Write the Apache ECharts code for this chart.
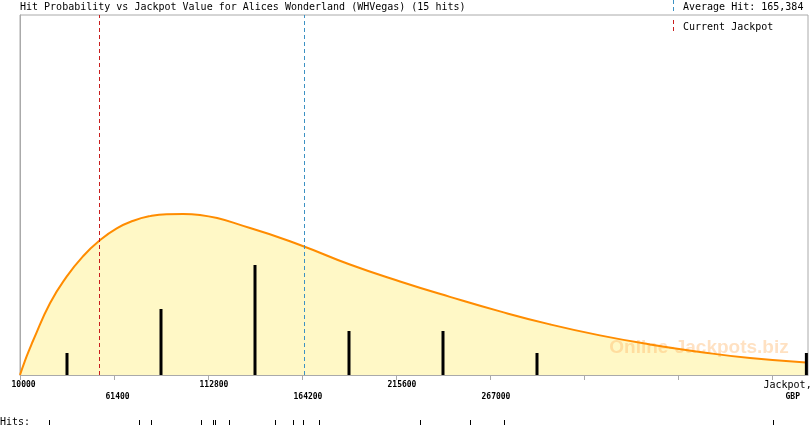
<!DOCTYPE html>
<html><head><meta charset="utf-8">
<script src="https://cdn.jsdelivr.net/npm/echarts@6/dist/echarts.min.js"></script>
<style>html,body{margin:0;padding:0;background:#fff}#c{width:810px;height:425px}</style>
</head><body><div id="c"></div>
<script>
const X0 = 10000;
const XMAX = 440885;
const TICK_STEP = 51400;
const Y_MAX = 16.36;
const tickLabels = ['10000', '61400', '112800', '164200', '215600', '267000', '', '', 'JACKPOT'];
const titleText = 'Hit Probability vs Jackpot Value for Alices Wonderland (WHVegas) (15 hits)';
const averageHit = 165384;
const averageHitLabel = 'Average Hit: 165,384';
const currentJackpot = 53400;
const currentJackpotLabel = 'Current Jackpot';

const curveX = [10000, 12700, 15500, 17300, 26400, 35500, 44600, 53400, 62900, 72000, 81100, 90200, 99300, 108400, 135800, 163100, 190400, 217800, 245100, 272500, 299800, 327100, 354500, 381800, 409200, 439800];
const curveY = [0, 0.64, 1.23, 1.59, 3.26, 4.47, 5.41, 6.10, 6.66, 7.01, 7.22, 7.31, 7.32, 7.27, 6.68, 5.91, 5.02, 4.25, 3.55, 2.89, 2.30, 1.80, 1.39, 1.05, 0.77, 0.57];

const binCenters = [35700, 87100, 138500, 189900, 241300, 292700, 440000];
const binCounts = [1, 3, 5, 2, 2, 1, 1];

const hitValues = [25900, 75100, 81600, 109000, 115700, 116400, 124300, 149400, 159300, 165000, 173500, 228700, 256100, 274700, 421700];

const MONO = '"DejaVu Sans Mono", monospace';
const curveData = curveX.map((x, i) => [x - X0, curveY[i]]);
const barData = binCenters.map((x, i) => [x - X0, binCounts[i]]);
const hitData = hitValues.map(v => [v - X0, 0]);
const tickVals = tickLabels.map((_, i) => i * TICK_STEP);

const chart = echarts.init(document.getElementById('c'), null, {renderer: 'canvas'});
chart.setOption({
  animation: false,
  backgroundColor: '#fff',
  grid: [
    {left: 20, right: 2, top: 15, height: 360, show: true, borderColor: '#aaa', borderWidth: 1, backgroundColor: 'transparent', containLabel: false, outerBoundsMode: 'none'},
    {left: 20, right: 2, top: 420, height: 5, containLabel: false, outerBoundsMode: 'none'}
  ],
  xAxis: [
    {
      type: 'value', gridIndex: 0, min: 0, max: XMAX - X0,
      splitLine: {show: false},
      axisLine: {lineStyle: {color: '#aaa'}},
      axisTick: {show: true, length: 5, lineStyle: {color: '#aaa'}, customValues: tickVals},
      axisLabel: {
        customValues: tickVals,
        margin: 4, align: 'left', padding: [0, 0, 0, -8.5],
        fontFamily: MONO, fontSize: 8, fontWeight: 'bold', color: '#000', lineHeight: 12,
        formatter: function (v) {
          const idx = Math.round(v / TICK_STEP);
          const t = tickLabels[idx] || '';
          if (t === 'JACKPOT') return '{j|Jackpot,}\n{g|GBP}';
          if (!t) return '';
          return idx % 2 ? '\n' + t : t;
        },
        rich: {
          j: {fontFamily: MONO, fontSize: 10, fontWeight: 'normal', color: '#000', lineHeight: 12},
          g: {fontFamily: MONO, fontSize: 8, fontWeight: 'bold', color: '#000', lineHeight: 12, padding: [0, 0, 0, 22]}
        }
      }
    },
    {type: 'value', gridIndex: 1, min: 0, max: XMAX - X0, show: false}
  ],
  yAxis: [
    {type: 'value', gridIndex: 0, min: 0, max: Y_MAX, splitLine: {show: false}, axisLabel: {show: false}, axisTick: {show: false}, axisLine: {show: true, lineStyle: {color: '#aaa'}}},
    {type: 'value', gridIndex: 1, min: -1, max: 1, show: false}
  ],
  series: [
    {
      type: 'line', xAxisIndex: 0, yAxisIndex: 0, data: curveData, smooth: 0.5, symbol: 'none', z: 1,
      lineStyle: {width: 0, opacity: 0}, areaStyle: {color: '#FFF8C6', opacity: 1},
      markLine: {
        silent: true, symbol: ['none', 'none'], label: {show: false},
        lineStyle: {type: [4, 3], width: 1},
        data: [
          {xAxis: currentJackpot - X0, lineStyle: {color: '#c81e1e', type: [4, 3], width: 1}},
          {xAxis: averageHit - X0, lineStyle: {color: '#3c91c3', type: [4, 3], width: 1}}
        ]
      }
    },
    {
      type: 'line', xAxisIndex: 0, yAxisIndex: 0, data: curveData, smooth: 0.5, symbol: 'none', z: 3,
      lineStyle: {width: 2, color: '#FF8C00'}
    },
    {
      type: 'bar', xAxisIndex: 0, yAxisIndex: 0, data: barData, barWidth: 3, z: 4,
      itemStyle: {color: '#000'}
    },
    {
      type: 'custom', xAxisIndex: 1, yAxisIndex: 1, data: hitData,
      renderItem: function (params, api) {
        const p = api.coord([api.value(0), api.value(1)]);
        return {type: 'rect', shape: {x: Math.round(p[0]), y: 420, width: 1, height: 5}, style: {fill: '#000'}};
      }
    }
  ],
  graphic: [
    {type: 'text', x: 20, y: 7, style: {text: titleText, font: '10px ' + MONO, fill: '#000', verticalAlign: 'middle'}},
    {type: 'text', x: 683, y: 7, style: {text: averageHitLabel, font: '10px ' + MONO, fill: '#000', verticalAlign: 'middle'}},
    {type: 'text', x: 683, y: 27, style: {text: currentJackpotLabel, font: '10px ' + MONO, fill: '#000', verticalAlign: 'middle'}},
    {type: 'line', shape: {x1: 673.5, y1: 0, x2: 673.5, y2: 12}, style: {stroke: '#3c91c3', lineWidth: 1, lineDash: [4, 3]}},
    {type: 'line', shape: {x1: 673.5, y1: 20, x2: 673.5, y2: 33}, style: {stroke: '#c81e1e', lineWidth: 1, lineDash: [4, 3]}},
    {type: 'text', x: 0, y: 422, style: {text: 'Hits:', font: '10px ' + MONO, fill: '#000', verticalAlign: 'middle'}},
    {type: 'text', x: 699, y: 348, z: 2, style: {text: 'Online-Jackpots.biz', font: 'bold 19px "Liberation Sans", Arial, sans-serif', fill: 'rgba(255,175,95,0.38)', align: 'center', verticalAlign: 'middle'}}
  ]
});
</script></body></html>
